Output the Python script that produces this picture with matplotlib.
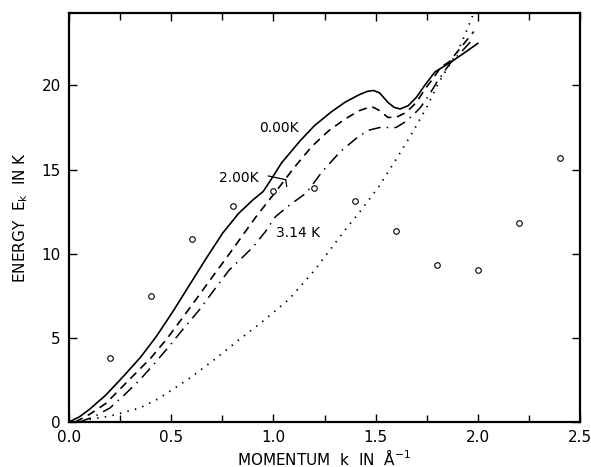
import matplotlib
matplotlib.use("Agg")
import matplotlib.pyplot as plt
from matplotlib.ticker import MultipleLocator

# dispersion curves (k in 1/A, E in K)
k_0K = [0.0, 0.05, 0.10, 0.18, 0.265, 0.35, 0.427, 0.51, 0.59, 0.67, 0.752, 0.83, 0.90, 0.95,
        0.988, 1.04, 1.13, 1.20, 1.28, 1.35, 1.42, 1.46, 1.49, 1.52, 1.56, 1.59, 1.62, 1.66, 1.70,
        1.74, 1.79, 1.83, 1.87, 1.93, 2.0]
E_0K = [0.0, 0.3, 0.75, 1.6, 2.7, 3.85, 5.08, 6.6, 8.15, 9.7, 11.23, 12.4, 13.2, 13.7,
        14.4, 15.4, 16.7, 17.6, 18.4, 19.0, 19.45, 19.65, 19.7, 19.55, 19.0, 18.7, 18.6, 18.8, 19.3,
        20.0, 20.8, 21.1, 21.4, 21.9, 22.5]

k_2K = [0.03, 0.10, 0.18, 0.31, 0.40, 0.476, 0.55, 0.62, 0.70, 0.785, 0.85, 0.915, 0.98,
        1.044, 1.10, 1.19, 1.27, 1.35, 1.42, 1.48, 1.52, 1.56, 1.60, 1.65, 1.70, 1.74,
        1.78, 1.82, 1.86, 1.92, 1.98]
E_2K = [0.0, 0.45, 1.1, 2.7, 3.8, 4.9, 6.1, 7.26, 8.6, 10.0, 11.1, 12.2, 13.2,
        14.2, 15.1, 16.4, 17.3, 18.0, 18.5, 18.75, 18.5, 18.1, 18.1, 18.4, 19.0, 19.75,
        20.4, 21.1, 21.4, 22.3, 23.2]

k_314K = [0.05, 0.12, 0.20, 0.27, 0.346, 0.42, 0.49, 0.56, 0.638, 0.71, 0.785, 0.85, 0.90,
          0.96, 1.01, 1.08, 1.16, 1.24, 1.33, 1.42, 1.47, 1.52, 1.56, 1.60, 1.64, 1.68,
          1.72, 1.76, 1.80, 1.84, 1.87, 1.92, 1.98]
E_314K = [0.0, 0.3, 0.83, 1.6, 2.5, 3.5, 4.5, 5.55, 6.67, 7.85, 9.05, 9.8, 10.4,
          11.3, 12.2, 12.9, 13.6, 14.9, 16.1, 17.0, 17.35, 17.5, 17.5, 17.5, 17.8, 18.2,
          18.7, 19.4, 20.2, 20.9, 21.4, 22.0, 22.8]

k_free = [0.10, 0.20, 0.346, 0.44, 0.59, 0.70, 0.833, 0.95, 1.077, 1.20, 1.35, 1.43, 1.516,
          1.60, 1.68, 1.75, 1.81, 1.86, 1.905, 1.94, 1.98]
E_free = [0.15, 0.35, 0.83, 1.4, 2.6, 3.6, 4.9, 6.0, 7.3, 9.0, 11.4, 12.6, 14.0,
          15.6, 17.2, 18.7, 20.2, 21.2, 22.1, 23.1, 24.3]

# circles
k_pts = [0.2, 0.4, 0.6, 0.8, 1.0, 1.2, 1.4, 1.6, 1.8, 2.0, 2.2, 2.4]
E_pts = [3.8, 7.5, 10.9, 12.86, 13.75, 13.9, 13.15, 11.37, 9.35, 9.05, 11.8, 15.7]

fig = plt.figure(figsize=(5.91, 4.67), dpi=100)
ax = fig.add_axes([0.1168, 0.0964, 0.8646, 0.8756])

ax.plot(k_0K, E_0K, color="black", lw=1.2)
ax.plot(k_2K, E_2K, color="black", lw=1.2, dashes=(5, 3.5))
ax.plot(k_314K, E_314K, color="black", lw=1.1, dashes=(8, 4, 1, 4))
ax.plot(k_free, E_free, color="black", lw=1.3, dashes=(0.8, 3.5))
ax.plot(k_pts, E_pts, "o", ms=4, mfc="white", mec="black", mew=0.8, ls="none")

# curve labels
ax.text(0.93, 17.45, "0.00K", fontsize=10, ha="left", va="center")
ax.text(0.736, 14.5, "2.00K", fontsize=10, ha="left", va="center")
ax.text(1.013, 11.25, "3.14 K", fontsize=10, ha="left", va="center")
ax.plot([0.975, 1.06], [14.62, 14.4], color="black", lw=0.9)
ax.plot([1.06, 1.065], [14.4, 14.0], color="black", lw=0.9)

ax.set_xlim(0, 2.5)
ax.set_ylim(0, 24.3)
ax.xaxis.set_minor_locator(MultipleLocator(0.25))
ax.set_xticks([0, 0.5, 1.0, 1.5, 2.0, 2.5])
ax.set_xticklabels(["0.0", "0.5", "1.0", "1.5", "2.0", "2.5"])
ax.set_yticks([0, 5, 10, 15, 20])
ax.set_yticklabels(["0", "5", "10", "15", "20"])
ax.tick_params(which="both", direction="in", top=True, right=True, labelsize=11, pad=6)
ax.tick_params(which="major", length=6, width=1)
ax.tick_params(which="minor", length=5, width=1)
for s in ax.spines.values():
    s.set_linewidth(1.6)

ax.set_xlabel("MOMENTUM  k  IN  $\\mathrm{\\AA}^{-1}$", fontsize=11, labelpad=2)
ax.set_ylabel("ENERGY  E$_\\mathrm{k}$  IN K", fontsize=11, labelpad=8)

fig.savefig("out.png", dpi=100, facecolor="white")
